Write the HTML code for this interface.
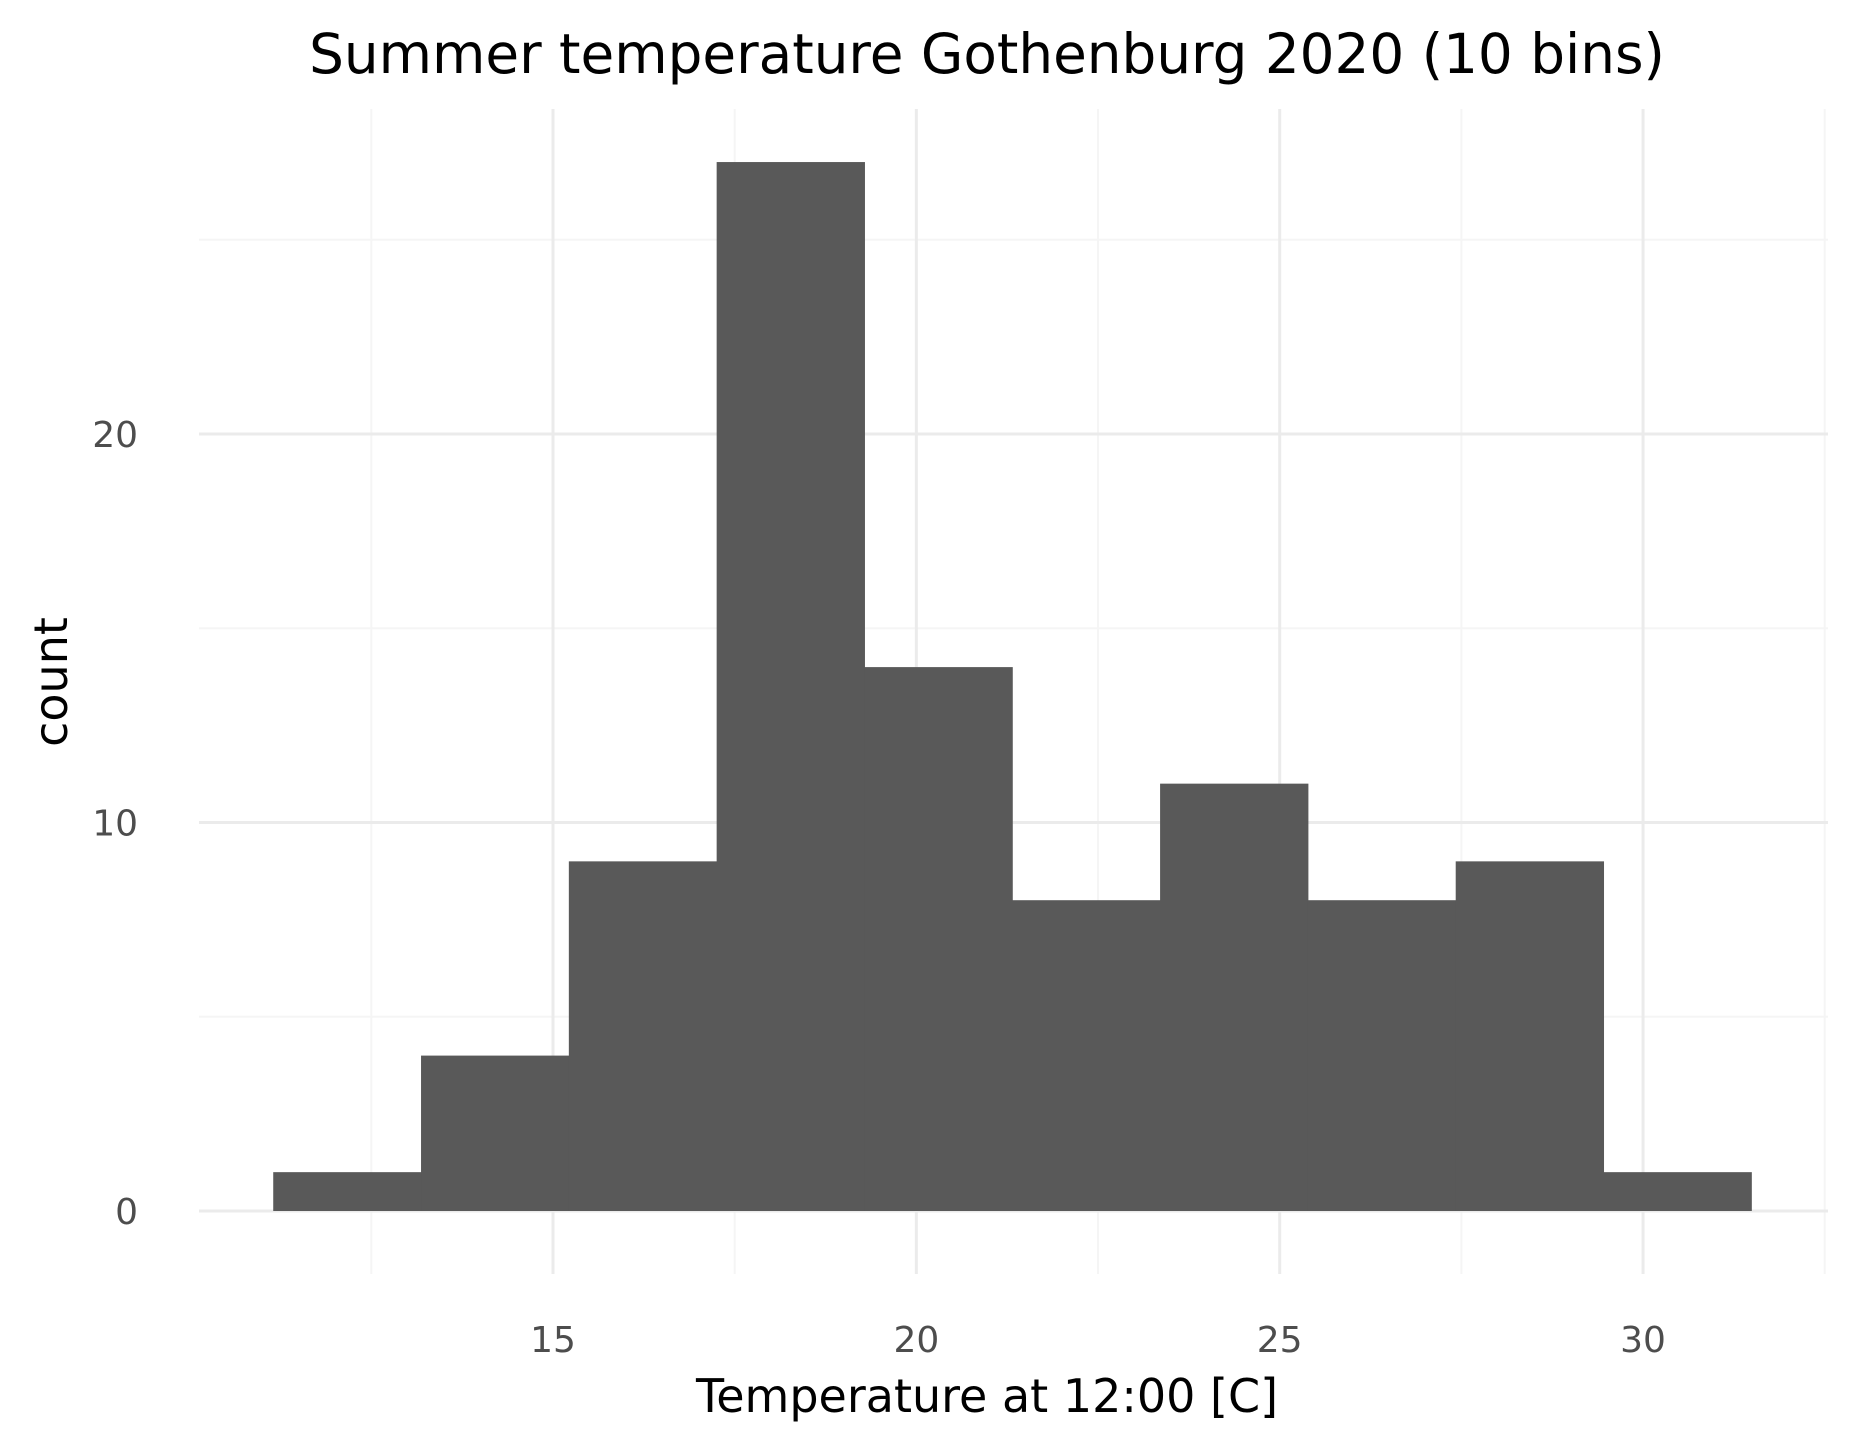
<!DOCTYPE html>
<html><head><meta charset="utf-8"><style>
html,body{margin:0;padding:0;background:#fff;width:1856px;height:1452px;overflow:hidden}
text{font-family:"DejaVu Sans","Liberation Sans",sans-serif}
</style></head><body>
<svg id="chart" width="1856" height="1452" viewBox="0 0 1856 1452" xmlns="http://www.w3.org/2000/svg">
<rect width="1856" height="1452" fill="#fff"/>
<g id="grid"></g><g id="bars"></g><g id="axes"></g>
<text x="987" y="73" font-size="54.8" text-anchor="middle" fill="#000">Summer temperature Gothenburg 2020 (10 bins)</text>
<text x="987" y="1412" font-size="46" text-anchor="middle" fill="#000">Temperature at 12:00 [C]</text>
<text transform="translate(67,682) rotate(-90)" font-size="46" text-anchor="middle" fill="#000">count</text>
</svg>
<script>
const binStart = 11.15;
const binWidth = 2.034;
const counts = [1, 4, 9, 27, 14, 8, 11, 8, 9, 1];
const xTicks = [15, 20, 25, 30];
const xMinor = [12.5, 17.5, 22.5, 27.5, 32.5];
const yTicks = [0, 10, 20];
const yMinor = [5, 15, 25];
const PL = 199, PR = 1828, PT = 109, PB = 1274;
const sx = v => 553 + (v - 15) * 72.67;
const sy = v => 1211 - v * 38.85;
const NS = 'http://www.w3.org/2000/svg';
function mk(tag, attrs, parent) {
  const e = document.createElementNS(NS, tag);
  for (const k in attrs) e.setAttribute(k, attrs[k]);
  parent.appendChild(e);
  return e;
}
const grid = document.getElementById('grid'), bars = document.getElementById('bars'), axes = document.getElementById('axes');
yMinor.forEach(v => {
  const l = mk('line', {x1: PL, x2: PR, y1: sy(v), y2: sy(v), stroke: '#f5f5f5', 'stroke-width': 2}, grid);
  
  
});
xMinor.forEach(v => {
  const l = mk('line', {x1: sx(v), x2: sx(v), y1: PT, y2: PB, stroke: '#f5f5f5', 'stroke-width': 2}, grid);
  
  
});
yTicks.forEach(v => {
  const l = mk('line', {x1: PL, x2: PR, y1: sy(v), y2: sy(v), stroke: '#ebebeb', 'stroke-width': 3}, grid);
  
  
  const t = mk('text', {x: 138, y: sy(v) + 13, 'font-size': 36, 'text-anchor': 'end', fill: '#4d4d4d'}, axes);
  t.textContent = v;
  
  
});
xTicks.forEach(v => {
  const l = mk('line', {x1: sx(v), x2: sx(v), y1: PT, y2: PB, stroke: '#ebebeb', 'stroke-width': 3}, grid);
  
  
  const t = mk('text', {x: sx(v), y: 1352, 'font-size': 36, 'text-anchor': 'middle', fill: '#4d4d4d'}, axes);
  t.textContent = v;
  
  
});
counts.forEach((c, i) => {
  const x0 = sx(binStart + i * binWidth), x1 = sx(binStart + (i + 1) * binWidth);
  const r = mk('rect', {x: x0, y: sy(c), width: x1 - x0 + 0.5, height: sy(0) - sy(c), fill: '#595959'}, bars);
  
  
});
</script>
</body></html>
